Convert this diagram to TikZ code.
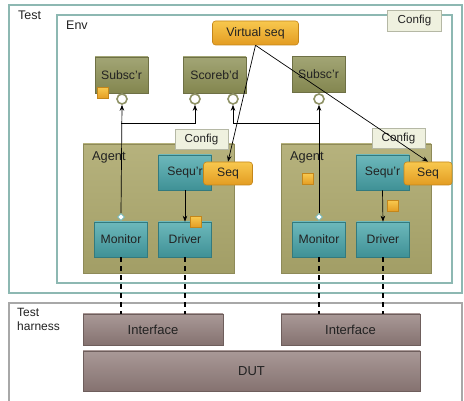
\documentclass[tikz,border=0pt]{standalone}
\usepackage{fontspec}
\setmainfont{Liberation Sans}
\usetikzlibrary{shapes.geometric,arrows.meta}
\definecolor{frameC}{HTML}{8DB8B2}
\definecolor{harnC}{HTML}{A8A8A8}
\definecolor{oliveT}{HTML}{A2A575}
\definecolor{oliveB}{HTML}{83864F}
\definecolor{oliveD}{HTML}{6E7045}
\definecolor{agentT}{HTML}{B6B27D}
\definecolor{agentB}{HTML}{A29E66}
\definecolor{agentD}{HTML}{8E8A58}
\definecolor{tealT}{HTML}{6DB8BB}
\definecolor{tealB}{HTML}{3F9196}
\definecolor{tealD}{HTML}{337A7E}
\definecolor{orgT}{HTML}{F8C84E}
\definecolor{orgB}{HTML}{E39C22}
\definecolor{orgD}{HTML}{C4861A}
\definecolor{mauT}{HTML}{A99997}
\definecolor{mauB}{HTML}{857270}
\definecolor{mauD}{HTML}{6E5E5C}
\definecolor{cfgF}{HTML}{EFF1DF}
\definecolor{cfgD}{HTML}{B5B8A5}
\definecolor{portC}{HTML}{8F9266}
\definecolor{txtC}{HTML}{222222}
\begin{document}
\begin{tikzpicture}[x=1pt,y=-1pt,
  font=\fontsize{12.2}{14}\selectfont, text=txtC,
  olivebox/.style={draw=oliveD, line width=0.6pt, top color=oliveT, bottom color=oliveB, minimum width=53pt, minimum height=36pt, inner sep=0pt},
  agentbox/.style={draw=agentD, line width=0.6pt, top color=agentT, bottom color=agentB},
  tealbox/.style={draw=tealD, line width=0.6pt, top color=tealT, bottom color=tealB, minimum width=53pt, minimum height=35pt, inner sep=0pt},
  orgbox/.style={draw=orgD, line width=0.6pt, top color=orgT, bottom color=orgB, rounded corners=3pt, inner sep=0pt},
  sqbox/.style={draw=orgD, line width=0.5pt, top color=orgT, bottom color=orgB, minimum width=11pt, minimum height=11pt, inner sep=0pt},
  cfgbox/.style={draw=cfgD, line width=0.7pt, fill=cfgF, minimum width=53pt, minimum height=20pt, inner sep=0pt, font=\fontsize{11.6}{13}\selectfont},
  maubox/.style={draw=mauD, line width=0.6pt, top color=mauT, bottom color=mauB, inner sep=0pt, font=\fontsize{13}{15}\selectfont},
  port/.style={circle, draw=portC, line width=1.6pt, fill=white, minimum size=10pt, inner sep=0pt},
  pin/.style={diamond, draw=tealT, line width=0.6pt, fill=white, minimum size=7pt, inner sep=0pt},
  conn/.style={draw=black, line width=0.7pt},
  arr/.style={conn, -{Stealth[length=6pt,width=4.5pt]}},
  sig/.style={draw=black, line width=2pt, dash pattern=on 5pt off 4pt},
  lbl/.style={anchor=north west, inner sep=0pt}
]
\useasboundingbox (0,0) rectangle (464,401);
\fill[white] (0,0) rectangle (464,401);

% frames
\draw[frameC, line width=2pt] (9,5) rectangle (462,293);
\draw[frameC, line width=2pt] (57,15) rectangle (452,283);
\draw[harnC, line width=1.5pt] (9,404) -- (9,303) -- (462,303) -- (462,404);
\node[lbl, font=\fontsize{12.5}{14}\selectfont] (tTest) at (18,11) {Test};
\node[lbl, font=\fontsize{12.5}{14}\selectfont] (tEnv) at (66,21) {Env};
\node[lbl, align=left, font=\fontsize{12}{14}\selectfont] (tHarn) at (17,308) {Test\\harness};

% env level
\node[cfgbox, minimum width=54pt, minimum height=21pt] (cfgE) at (414.5,20.5) {Config};
\node[orgbox, minimum width=86pt, minimum height=24pt, font=\fontsize{12.4}{14}\selectfont] (vs) at (255.5,33) {Virtual seq};
\node[olivebox] (sub1) at (121.5,75) {Subsc'r};
\node[olivebox, minimum width=63pt] (sb) at (214.5,75) {Scoreb'd};
\node[olivebox] (sub2) at (318.5,74.5) {Subsc'r};
\node[sqbox] (sqA) at (102.5,93) {};
\node[port] (c1) at (122,99) {};
\node[port] (c2) at (195,99) {};
\node[port] (c3) at (233,99) {};
\node[port] (c4) at (319,99) {};

% agents
\node[agentbox, minimum width=151pt, minimum height=129pt] (ag1) at (158.5,208.5) {};
\node[agentbox, minimum width=150pt, minimum height=129pt] (ag2) at (356,208.5) {};
\node[lbl, font=\fontsize{12.8}{14}\selectfont] (tAg1) at (92,151) {Agent};
\node[lbl, font=\fontsize{12.8}{14}\selectfont] (tAg2) at (290,151) {Agent};
\node[cfgbox] (cfg1) at (201.5,139.5) {Config};
\node[cfgbox] (cfg2) at (398.5,138.5) {Config};

\node[tealbox] (sq1) at (185,172.5) {Sequ'r\hspace{8pt}};
\node[tealbox] (sq2) at (382.5,172.5) {Sequ'r\hspace{8pt}};
\node[orgbox, minimum width=49pt, minimum height=23pt] (seq1) at (228,173.5) {Seq};
\node[orgbox, minimum width=48pt, minimum height=23pt] (seq2) at (428,173.5) {Seq};
\node[tealbox] (mon1) at (121,239.5) {Monitor};
\node[tealbox] (dr1) at (185,239.5) {Driver};
\node[tealbox] (mon2) at (319,239.5) {Monitor};
\node[tealbox] (dr2) at (383,239.5) {Driver};
\node[sqbox] (sqB) at (196,222) {};
\node[sqbox] (sqC) at (308,179) {};
\node[sqbox] (sqD) at (393,206) {};
\node[pin] (p1) at (121,217) {};
\node[pin] (p2) at (319,217) {};

% harness
\node[maubox, minimum width=140pt, minimum height=31pt] (if1) at (153,329.5) {Interface};
\node[maubox, minimum width=139pt, minimum height=31pt] (if2) at (350.5,329.5) {Interface};
\node[maubox, minimum width=337pt, minimum height=40pt] (dut) at (251.5,371) {DUT};

% connectors
\coordinate (b1) at (121,123);
\coordinate (b2) at (319,123);
\draw[arr] (p1.north) -- (c1.south);
\draw[arr] (b1) -| (c2.south);
\draw[arr] (p2.north) -- (c4.south);
\draw[arr] (b2) -| (c3.south);
\draw[arr] (sq1.south) -- (dr1.north);
\draw[arr] (sq2.south) -- (dr2.north);
\draw[arr] (vs.south) -- (seq1.north);
\draw[arr] (vs.south) -- (seq2.north);

\draw[sig] (mon1.south) -- (mon1.south |- if1.north);
\draw[sig] (dr1.south) -- (dr1.south |- if1.north);
\draw[sig] (mon2.south) -- (mon2.south |- if2.north);
\draw[sig] (dr2.south) -- (dr2.south |- if2.north);
\end{tikzpicture}
\end{document}
